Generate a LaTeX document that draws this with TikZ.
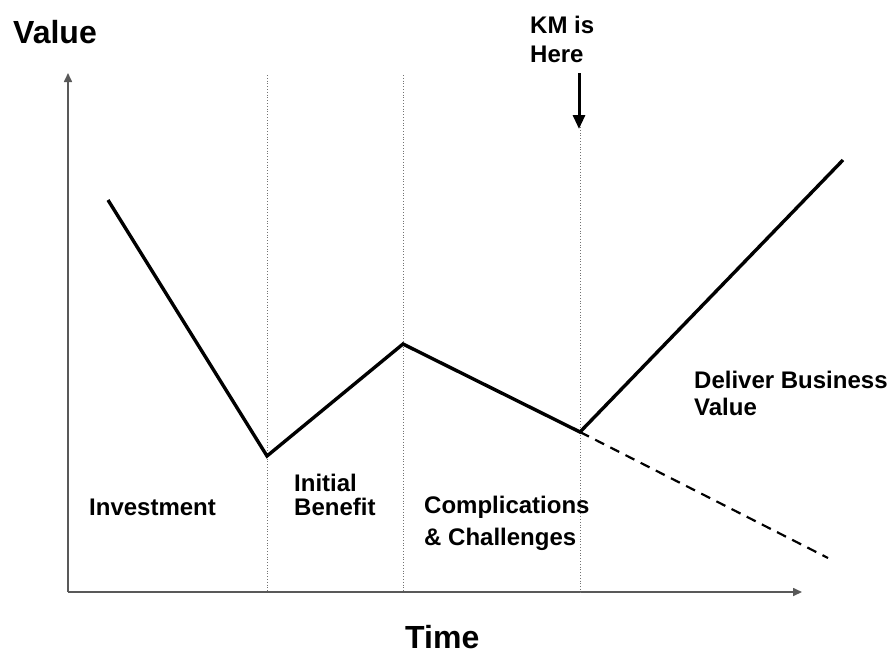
\documentclass[tikz,border=0pt]{standalone}
\usepackage{fontspec}
\setmainfont{Liberation Sans}
\usetikzlibrary{arrows.meta}
\tikzset{
  phase/.style={font=\fontsize{24}{27}\selectfont\bfseries, align=left, anchor=base west, inner sep=0pt},
  axistitle/.style={font=\fontsize{32}{36}\selectfont\bfseries, anchor=base west, inner sep=0pt},
  axisline/.style={draw=black!65, line width=1.6pt, -{Triangle[length=9pt,width=8pt]}},
  divider/.style={draw=black!55, dotted, line width=0.8pt},
  valueline/.style={line width=3.4pt, line join=miter},
}

\begin{document}
\begin{tikzpicture}[x=1pt, y=-1pt]
    \useasboundingbox (0,0) rectangle (888,654);

    % axes
    \coordinate (origin) at (68,592);
    \coordinate (ytip) at (68,73);
    \coordinate (xtip) at (802,592);
    \draw [axisline] (origin) -- (ytip);
    \draw [axisline] (origin) -- (xtip);
    \node [axistitle] (valuelabel) at (13,43) {Value};
    \node [axistitle] (timelabel) at (405,648) {Time};

    % phase borders
    \coordinate (b1top) at (267,75);  \coordinate (b1bot) at (267,592);
    \coordinate (b2top) at (403,75);  \coordinate (b2bot) at (403,592);
    \coordinate (b3top) at (580,127); \coordinate (b3bot) at (580,592);
    \draw [divider] (b1top) -- (b1bot);
    \draw [divider] (b2top) -- (b2bot);
    \draw [divider] (b3top) -- (b3bot);

    % value curve
    \coordinate (start) at (108,200);
    \coordinate (dip) at (267,456);
    \coordinate (peak) at (403,344);
    \coordinate (km) at (580,432);
    \coordinate (rise) at (843,160);
    \coordinate (fall) at (828,558);
    \draw [valueline] (start) -- (dip) -- (peak) -- (km) -- (rise);
    \draw [valueline, line width=2.2pt, dash pattern=on 10pt off 7pt] (km) -- (fall);

    % marker
    \node [phase] (kmlabel) at (530,62) {KM is\\[2pt]Here};
    \coordinate (kmtop) at (579,73);
    \coordinate (kmtip) at (579,129);
    \draw [line width=3pt, -{Triangle[length=14pt,width=12pt]}] (kmtop) -- (kmtip);

    % phases
    \node [phase] (invest) at (89,515) {Investment};
    \node [phase] (initial) at (294,515) {Initial\\[-3pt]Benefit};
    \node [phase] (complic) at (424,545) {Complications\\[5pt]\& Challenges};
    \node [phase] (deliver) at (694,415) {Deliver Business\\Value};
\end{tikzpicture}
\end{document}
